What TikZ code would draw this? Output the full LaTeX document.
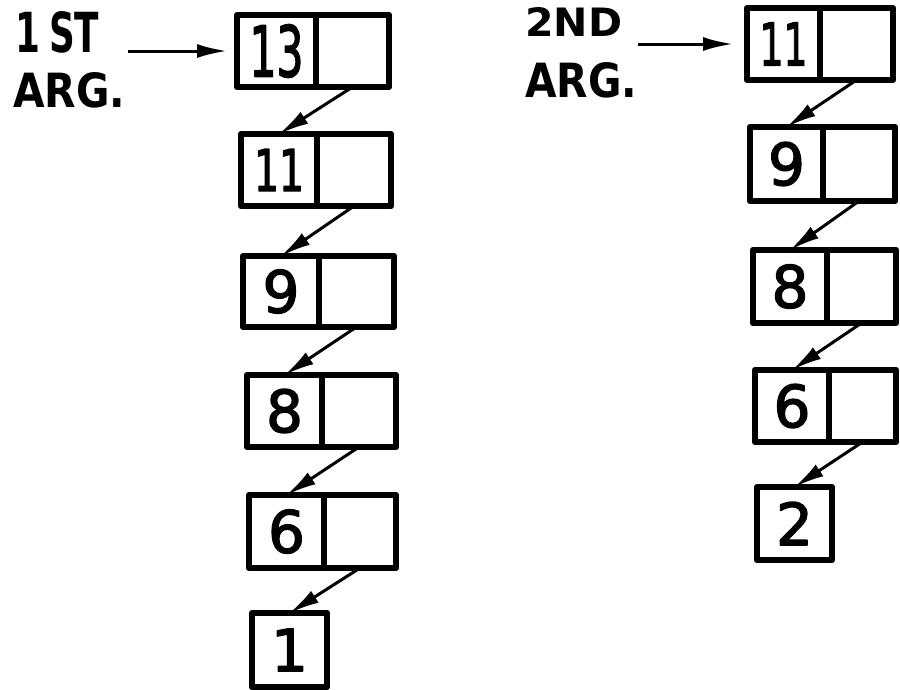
\documentclass[tikz,border=0pt]{standalone}
\usepackage{fontspec}
\usepackage{graphicx}
\usetikzlibrary{arrows.meta}
\newfontfamily\numfont{DejaVu Sans}[FakeBold=2.5]
\newfontfamily\labfont{DejaVu Sans}
\tikzset{
  cellbox/.style={draw, rectangle, line width=6.5pt, inner sep=0pt, outer sep=0pt, line join=round},
  num/.style={font=\numfont\fontsize{58}{58}\selectfont},
  link/.style={line width=3pt, -{Latex[length=30pt,width=14pt]}},
  lab/.style={inner sep=0pt, anchor=south west, font=\labfont\bfseries}
}
\newcommand\conscell[7]{%
  \node[cellbox,num,minimum width={#3-#2},minimum height={#6-#5}] (#1) at ({(#2+#3)/2},{(#5+#6)/2}) {#7};
  \node[cellbox,minimum width={#4-#3},minimum height={#6-#5}] (#1r) at ({(#3+#4)/2},{(#5+#6)/2}) {};
}
\begin{document}
\begin{tikzpicture}[x=1pt,y=-1pt]
\useasboundingbox (0,0) rectangle (900,689);
% labels
\node[lab] (t1) at (15,53) {\resizebox{84pt}{41pt}{\spaceskip=0.25em 1 ST}};
\node[lab] (t2) at (13,108) {\resizebox{112pt}{35pt}{ARG.}};
\node[lab] (t3) at (525,37) {\resizebox{97pt}{29pt}{2ND}};
\node[lab] (t4) at (525,98) {\resizebox{112pt}{35pt}{ARG.}};
% left list
\conscell{La}{237}{316}{389}{15}{87}{\resizebox{54pt}{52pt}{13}}
\conscell{Lb}{241}{317}{391}{134}{206}{\resizebox{50pt}{42pt}{11}}
\conscell{Lc}{243}{319}{394}{256}{327}{9}
\conscell{Ld}{247}{322}{396}{375}{447}{8}
\conscell{Le}{249}{324}{396}{495}{568}{6}
\node[cellbox,num,minimum width=75,minimum height=74] (Lf) at (289.5,650) {1};
% right list
\conscell{Ra}{747}{820}{893}{8}{80}{\resizebox{48pt}{43pt}{11}}
\conscell{Rb}{750}{823}{895}{127}{201}{9}
\conscell{Rc}{753}{827}{896}{250}{323}{8}
\conscell{Rd}{755}{829}{896}{370}{442}{6}
\node[cellbox,num,minimum width=75,minimum height=73] (Re) at (794.5,523.5) {2};
% pointer arrows
\coordinate (p1) at (128,51);
\coordinate (p2) at (638,44);
\draw[link, shorten >=10pt] (p1) -- (La.west);
\draw[link, shorten >=14pt] (p2) -- (Ra.west);
% links
\draw[link] (Lar.south) -- (Lb.north);
\draw[link] (Lbr.south) -- (Lc.north);
\draw[link] (Lcr.south) -- (Ld.north);
\draw[link] (Ldr.south) -- (Le.north);
\draw[link] (Ler.south) -- (Lf.north);
\draw[link] (Rar.south) -- (Rb.north);
\draw[link] (Rbr.south) -- (Rc.north);
\draw[link] (Rcr.south) -- (Rd.north);
\draw[link] (Rdr.south) -- (Re.north);
\end{tikzpicture}
\end{document}
